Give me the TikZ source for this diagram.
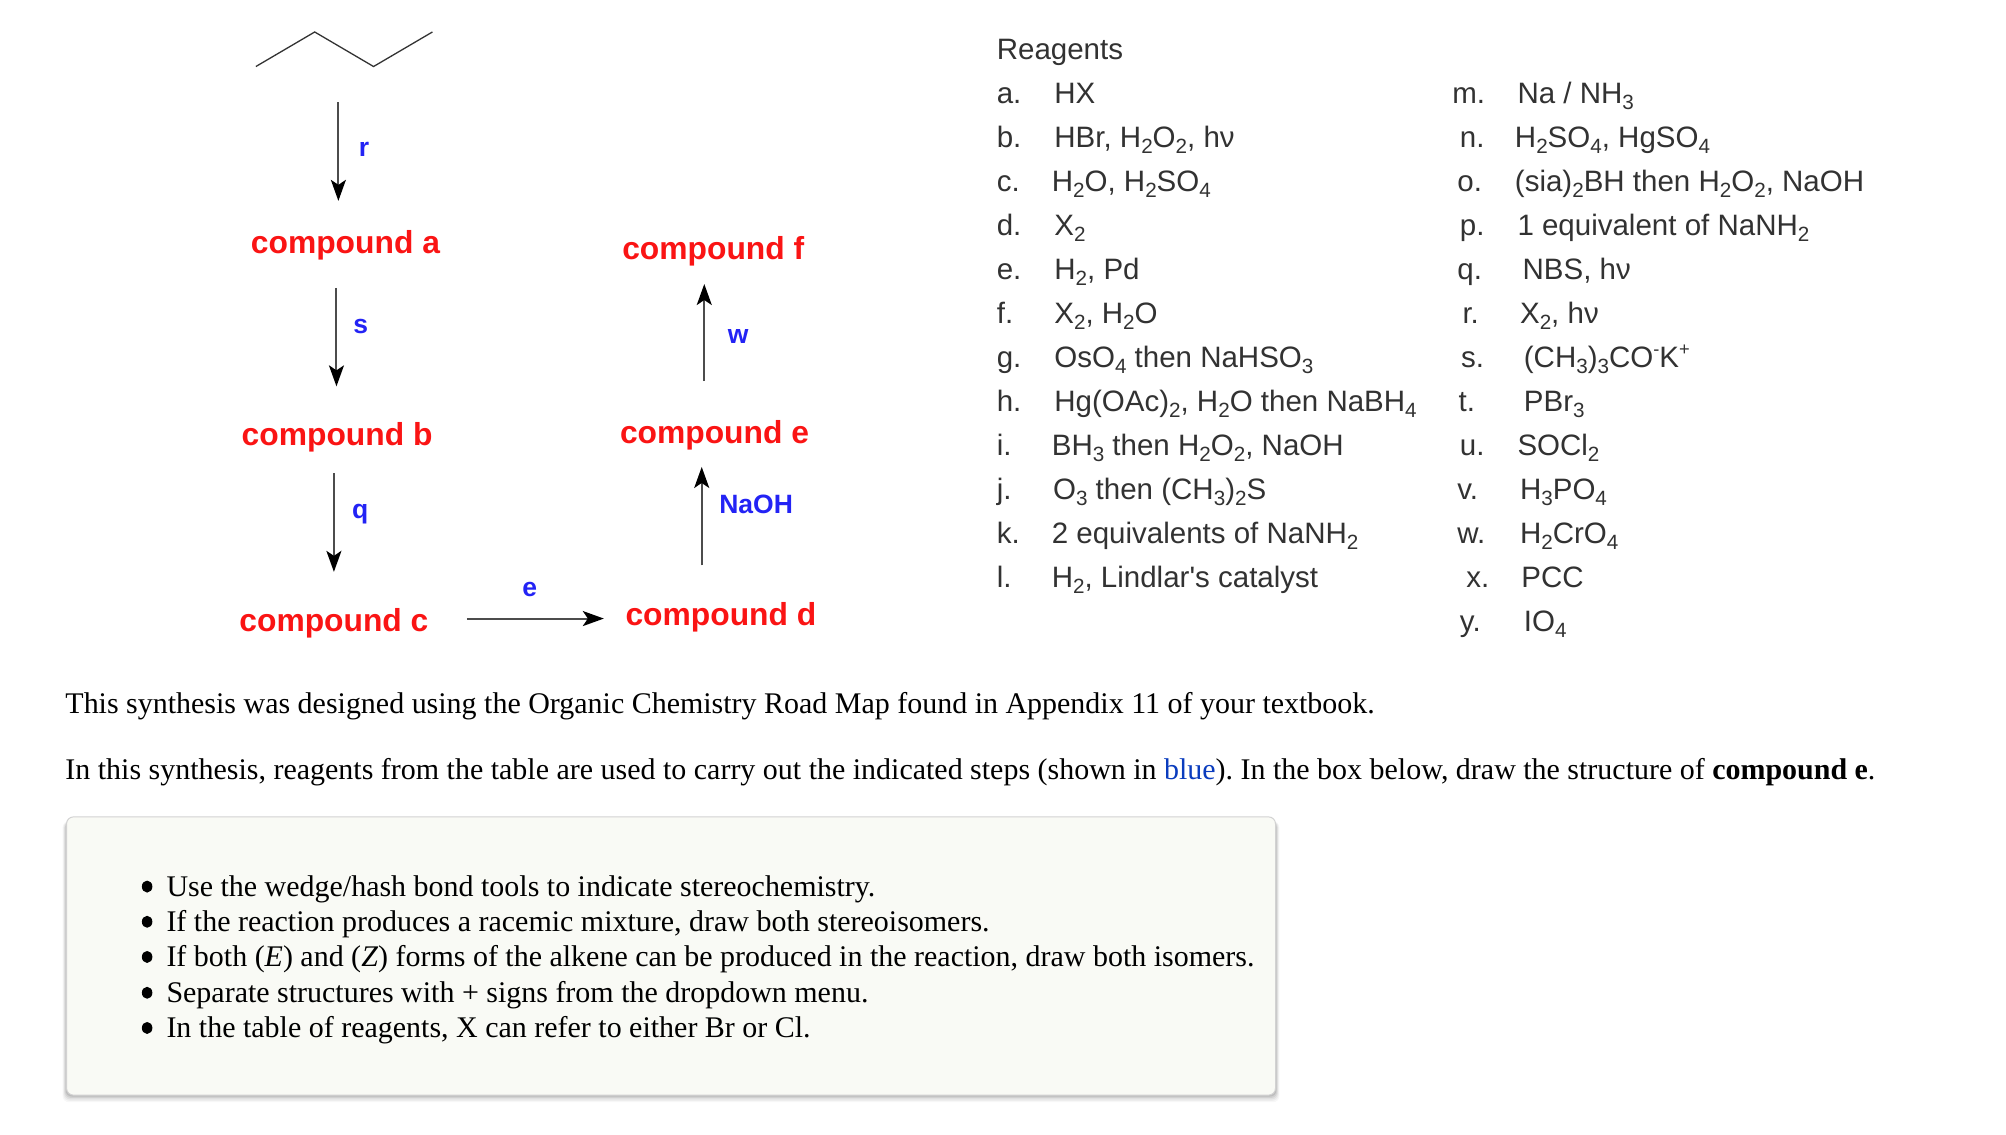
\documentclass[tikz,border=0pt]{standalone}
\usepackage{fontspec}
\setmainfont{Liberation Serif}
\newfontfamily\arialf{Liberation Sans}
\usetikzlibrary{arrows.meta}
\frenchspacing
\definecolor{cpdred}{RGB}{250,20,20}
\definecolor{stepblue}{RGB}{35,35,245}
\definecolor{linkblue}{RGB}{10,60,190}
\definecolor{boxfill}{RGB}{249,250,245}
\definecolor{boxline}{RGB}{210,210,210}
\definecolor{reagtext}{RGB}{50,50,50}
\newcommand{\sbb}[1]{\raisebox{-0.2em}{\scalebox{.7}{#1}}}
\newcommand{\spp}[1]{\raisebox{0.42em}{\scalebox{.62}{#1}}}
\newcommand{\rlab}[4]{\node[reag] (#1) at (#2,#3) {#4};}
\tikzset{
  cpd/.style={font=\arialf\bfseries\fontsize{31.8}{36}\selectfont, text=cpdred, inner sep=0pt},
  steplab/.style={font=\arialf\bfseries\fontsize{26.5}{30}\selectfont, text=stepblue, inner sep=0pt},
  reag/.style={font=\arialf\fontsize{29.5}{34}\selectfont, text=reagtext, inner sep=0pt, anchor=base west},
  para/.style={font=\fontsize{29.97}{36}\selectfont, text=black, inner sep=0pt, anchor=base west},
  arr/.style={line width=2pt, draw=black!70, -{Stealth[length=21pt,width=15pt,inset=5pt,color=black]}},
  bond/.style={line width=1.3pt, draw=black!80, line join=miter},
  bul/.style={ellipse, fill=black, minimum width=10.5pt, minimum height=12pt, inner sep=0pt}
}
\usetikzlibrary{shapes.geometric}
\begin{document}
\begin{tikzpicture}[x=1.2793pt,y=-1.2793pt]
\useasboundingbox[fill=white] (0,0) rectangle (1568,886.4);
% zigzag
\coordinate (z1) at (200,52);\coordinate (z2) at (246,25);\coordinate (z3) at (292,52);\coordinate (z4) at (338,25);
\draw[bond] (z1) -- (z2) -- (z3) -- (z4);
% compounds
\node[cpd] (ca) at (270,192) {compound a};
\node[cpd] (cb) at (263.5,342) {compound b};
\node[cpd] (cc) at (261,487) {compound c};
\node[cpd] (cd) at (563.5,482.5) {compound d};
\node[cpd] (ce) at (558.5,340.5) {compound e};
\node[cpd] (cf) at (557.5,196.5) {compound f};
% arrow ends
\coordinate (r1) at (264.5,80);\coordinate (r2) at (264.5,157);
\coordinate (s1) at (263,225);\coordinate (s2) at (263,302);
\coordinate (q1) at (261,370);\coordinate (q2) at (261,447);
\coordinate (e1) at (365,483.5);\coordinate (e2) at (472,483.5);
\coordinate (n1) at (548.5,442);\coordinate (n2) at (548.5,365);
\coordinate (w1) at (550.5,298);\coordinate (w2) at (550.5,222);
\draw[arr] (r1) -- (r2);
\draw[arr] (s1) -- (s2);
\draw[arr] (q1) -- (q2);
\draw[arr] (e1) -- (e2);
\draw[arr] (n1) -- (n2);
\draw[arr] (w1) -- (w2);
% step labels
\node[steplab] (lr) at (284.5,117) {r};
\node[steplab] (ls) at (282,255) {s};
\node[steplab] (lq) at (281.5,402) {q};
\node[steplab] (le) at (414,461) {e};
\node[steplab] (ln) at (591,394) {NaOH};
\node[steplab] (lw) at (577,263) {w};
% reagents
\node[reag] (rh) at (779,46.5) {Reagents};
\rlab{la}{779}{81}{a.}\rlab{ta}{824}{81}{HX}
\rlab{lb}{779}{115.5}{b.}\rlab{tb}{824}{115.5}{HBr, H\sbb{2}O\sbb{2}, hν}
\rlab{lc}{779}{150}{c.}\rlab{tc}{822}{150}{H\sbb{2}O, H\sbb{2}SO\sbb{4}}
\rlab{ld}{779}{184}{d.}\rlab{td}{824}{184}{X\sbb{2}}
\rlab{le2}{779}{218.5}{e.}\rlab{te}{824}{218.5}{H\sbb{2}, Pd}
\rlab{lf}{779}{253}{f.}\rlab{tf}{824}{253}{X\sbb{2}, H\sbb{2}O}
\rlab{lg}{779}{287.5}{g.}\rlab{tg}{824}{287.5}{OsO\sbb{4} then NaHSO\sbb{3}}
\rlab{lh}{779}{322}{h.}\rlab{th}{824}{322}{Hg(OAc)\sbb{2}, H\sbb{2}O then NaBH\sbb{4}}
\rlab{li}{779}{356}{i.}\rlab{ti}{822}{356}{BH\sbb{3} then H\sbb{2}O\sbb{2}, NaOH}
\rlab{lj}{779}{390.5}{j.}\rlab{tj}{823}{390.5}{O\sbb{3} then (CH\sbb{3})\sbb{2}S}
\rlab{lk}{779}{425}{k.}\rlab{tk}{822}{425}{2 equivalents of NaNH\sbb{2}}
\rlab{ll}{779}{459.5}{l.}\rlab{tl}{822}{459.5}{H\sbb{2}, Lindlar's catalyst}
\rlab{lm}{1135}{81}{m.}\rlab{tm}{1186}{81}{Na / NH\sbb{3}}
\rlab{ln2}{1141}{115.5}{n.}\rlab{tn}{1184}{115.5}{H\sbb{2}SO\sbb{4}, HgSO\sbb{4}}
\rlab{lo}{1139}{150}{o.}\rlab{to}{1184}{150}{(sia)\sbb{2}BH then H\sbb{2}O\sbb{2}, NaOH}
\rlab{lp}{1141}{184}{p.}\rlab{tp}{1186}{184}{1 equivalent of NaNH\sbb{2}}
\rlab{lq2}{1139}{218.5}{q.}\rlab{tq}{1190}{218.5}{NBS, hν}
\rlab{lr2}{1143}{253}{r.}\rlab{tr}{1188}{253}{X\sbb{2}, hν}
\rlab{ls2}{1142}{287.5}{s.}\rlab{ts}{1191}{287.5}{(CH\sbb{3})\sbb{3}CO\spp{-}K\spp{+}}
\rlab{lt}{1140}{322}{t.}\rlab{tt}{1191}{322}{PBr\sbb{3}}
\rlab{lu}{1141}{356}{u.}\rlab{tu}{1186}{356}{SOCl\sbb{2}}
\rlab{lv}{1139}{390.5}{v.}\rlab{tv}{1188}{390.5}{H\sbb{3}PO\sbb{4}}
\rlab{lw2}{1139}{425}{w.}\rlab{tw}{1188}{425}{H\sbb{2}CrO\sbb{4}}
\rlab{lx}{1146}{459.5}{x.}\rlab{tx}{1189}{459.5}{PCC}
\rlab{ly}{1141}{494}{y.}\rlab{ty}{1191}{494}{IO\sbb{4}}
% paragraphs
\node[para] (p1) at (51,557.5) {This synthesis was designed using the Organic Chemistry Road Map found in Appendix 11 of your textbook.};
\node[para] (p2) at (51,609) {In this synthesis, reagents from the table are used to carry out the indicated steps (shown in \textcolor{linkblue}{blue}). In the box below, draw the structure of \textbf{compound e}.};
% box with soft shadow
\foreach \g/\o in {5/.03,4/.04,3/.05,2/.07,1/.09}{
  \fill[black,opacity=\o,rounded corners=6pt] (52-\g*.6,642) rectangle (997+\g*.6,856+\g*1.1);
}
\draw[draw=boxline,fill=boxfill,line width=1pt,rounded corners=7pt] (52,638.5) rectangle (997,856);
% bullets
\node[para] (b1) at (130,700.5) {Use the wedge/hash bond tools to indicate stereochemistry.};
\node[para] (b2) at (130,728) {If the reaction produces a racemic mixture, draw both stereoisomers.};
\node[para] (b3) at (130,755.5) {If both (\textit{E}) and (\textit{Z}) forms of the alkene can be produced in the reaction, draw both isomers.};
\node[para] (b4) at (130,783.5) {Separate structures with + signs from the dropdown menu.};
\node[para] (b5) at (130,811) {In the table of reagents, X can refer to either Br or Cl.};
\node[bul] (d1) at (115,693) {};
\node[bul] (d2) at (115,720.5) {};
\node[bul] (d3) at (115,748) {};
\node[bul] (d4) at (115,776) {};
\node[bul] (d5) at (115,803.5) {};
\end{tikzpicture}
\end{document}
